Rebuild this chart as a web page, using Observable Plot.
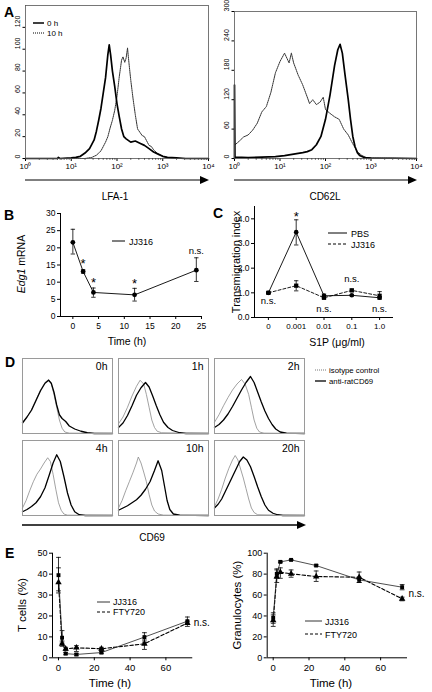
<!DOCTYPE html>
<html><head><meta charset="utf-8">
<script src="https://cdn.jsdelivr.net/npm/d3@7"></script>
<script src="https://cdn.jsdelivr.net/npm/@observablehq/plot@0.6"></script>
<style>
body{margin:0;background:#fff;}
#fig{position:relative;width:432px;height:692px;overflow:hidden;font-family:"Liberation Sans",Arial,Helvetica,sans-serif;}
</style></head><body><div id="fig"></div>
<script>
// ---------- DATA ----------
// Panel A: flow histograms, x = log10 fluorescence (decades), y = counts
const lfa0h = [[0,0],[0.7,0],[0.72,1],[0.75,0],[1.0,0.5],[1.1,1],[1.2,2],[1.3,5],[1.4,9],[1.5,17],[1.55,25],[1.6,35],[1.65,46],[1.7,60],[1.75,74],[1.8,95],[1.83,104],[1.86,95],[1.9,80],[1.95,66],[2.0,50],[2.05,38],[2.1,27],[2.15,20],[2.2,18],[2.3,15],[2.4,16],[2.5,14],[2.6,12],[2.7,9],[2.8,6],[2.9,4],[3.0,2],[3.1,1],[3.3,0.5],[3.5,0],[4,0]];
const lfa10h = [[1.0,0],[1.3,0],[1.45,1],[1.55,3],[1.65,7],[1.75,15],[1.8,20],[1.85,28],[1.9,35],[1.95,44],[2.0,57],[2.05,75],[2.1,90],[2.13,93],[2.17,88],[2.2,92],[2.23,101],[2.26,88],[2.3,72],[2.35,55],[2.4,40],[2.45,27],[2.5,24],[2.55,21],[2.6,20],[2.65,16],[2.7,12],[2.75,11],[2.8,8],[2.9,4],[3.0,2],[3.1,1],[3.3,0],[4,0]];
const cd62l0h = [[0,0],[0,150],[0.01,3],[0.3,2],[0.6,3],[0.9,4],[1.1,6],[1.3,9],[1.5,12],[1.6,14],[1.7,18],[1.8,28],[1.9,45],[2.0,80],[2.1,130],[2.2,190],[2.27,222],[2.32,233],[2.37,215],[2.43,170],[2.5,120],[2.55,80],[2.6,45],[2.65,24],[2.7,12],[2.75,6],[2.85,2],[3.0,1],[4,0]];
const cd62l10h = [[0,27],[0.1,35],[0.2,44],[0.3,48],[0.4,58],[0.5,72],[0.6,95],[0.7,106],[0.8,135],[0.9,175],[1.0,198],[1.1,215],[1.15,205],[1.2,195],[1.25,215],[1.3,195],[1.4,170],[1.5,150],[1.6,125],[1.65,112],[1.72,120],[1.8,110],[1.88,115],[1.95,125],[2.0,100],[2.1,92],[2.2,85],[2.3,80],[2.4,60],[2.5,48],[2.6,30],[2.7,14],[2.8,6],[2.9,2],[3.0,1],[4,0]];
const aDecades = [0,1,2,3,4];
const aLeftTicks = [0,20,40,60,80,100,120];
const aRightTicks = [0,60,120,180,240,300];

// Panel B
const bTime = [0,2,4,12,24];
const bMean = [21.6,13.1,7.0,6.3,13.5];
const bLow  = [18.2,12.6,5.6,4.5,10.2];
const bHigh = [25.4,13.6,8.3,8.2,17.1];
const bStarTime = [2,4,12];
const bStarY = [16.3,10.8,10.5];
const bTicksY = [0,5,10,15,20,25,30];
const bTicksX = [0,5,10,15,20,25];

// Panel C
const cConc = ["0","0.001","0.01","0.1","1.0"];
const cPBS   = [1.0,3.46,0.88,0.9,0.8];
const cPBSlo = [0.97,2.94,0.83,0.87,0.75];
const cPBShi = [1.03,3.96,0.95,0.93,0.85];
const cJJ    = [1.0,1.29,0.8,1.1,0.88];
const cJJlo  = [0.97,1.08,0.76,1.05,0.75];
const cJJhi  = [1.03,1.49,0.84,1.15,1.05];
const cNsConc = ["0","0.01","0.1","1.0"];
const cNsY = [0.66,0.36,1.58,0.36];
const cTicksY = [0,1,2,3,4];

// Panel D: CD69 histograms (x = channel % of range, y = % of max height)
const d0hIso  = [[0,15],[5,22],[10,32],[15,45],[20,58],[25,68],[29,72],[32,66],[35,52],[38,35],[41,18],[44,7],[47,2],[52,0.5],[100,0]];
const d0hAnti = [[0,14],[5,22],[10,31],[15,44],[20,57],[25,67],[29,71],[32,67],[35,55],[38,38],[41,25],[44,20],[48,16],[52,10],[58,6],[65,3],[72,1],[80,0],[100,0]];
const d1hIso  = [[0,13],[5,22],[10,35],[15,50],[20,63],[24,71],[28,66],[31,52],[34,35],[37,18],[40,8],[43,3],[48,1],[100,0]];
const d1hAnti = [[0,8],[5,14],[10,24],[15,37],[20,51],[25,61],[30,68],[34,62],[38,50],[42,37],[46,25],[50,15],[55,8],[60,4],[68,1],[75,0],[100,0]];
const d2hIso  = [[0,15],[5,25],[10,37],[15,48],[20,58],[25,66],[30,72],[34,66],[38,52],[41,35],[44,18],[47,7],[50,2],[55,0.5],[100,0]];
const d2hAnti = [[0,8],[5,12],[10,18],[15,26],[20,36],[25,47],[30,58],[35,68],[40,76],[44,68],[48,55],[52,42],[56,30],[60,20],[64,12],[68,6],[73,2],[80,0.5],[100,0]];
const d4hIso  = [[0,10],[4,20],[8,33],[12,45],[16,55],[20,62],[24,70],[28,77],[31,72],[34,55],[37,35],[40,17],[43,7],[46,2],[50,0.5],[100,0]];
const d4hAnti = [[0,5],[5,8],[10,12],[15,17],[20,25],[25,37],[30,55],[34,70],[38,81],[42,72],[46,52],[50,30],[54,14],[58,5],[63,1],[70,0],[100,0]];
const d10hIso  = [[0,10],[4,20],[8,33],[12,45],[16,57],[20,70],[22,78],[25,70],[28,58],[31,45],[34,28],[37,14],[40,6],[44,2],[50,0.5],[100,0]];
const d10hAnti = [[0,7],[5,10],[10,13],[15,17],[20,21],[25,27],[30,35],[35,45],[40,60],[44,73],[48,60],[51,40],[54,20],[57,8],[61,2],[68,0.5],[100,0]];
const d20hIso  = [[0,12],[4,22],[8,35],[12,50],[16,63],[20,74],[23,80],[26,74],[29,62],[32,50],[35,36],[38,22],[41,10],[44,4],[48,1],[100,0]];
const d20hAnti = [[0,10],[4,15],[8,22],[12,32],[16,42],[20,52],[24,62],[28,72],[32,78],[36,74],[40,65],[44,52],[48,38],[52,25],[56,14],[60,7],[65,3],[70,1],[76,0],[100,0]];
const dLabels = ["0h","1h","2h","4h","10h","20h"];

// Panel E
const eTime = [0,2,4,10,24,48,72];
const eTJJ    = [39.5,9.6,2.0,1.6,2.5,9.9,17.5];
const eTJJlo  = [32,7,1.5,1,2,7.5,16];
const eTJJhi  = [48,13,2.5,2,3,12,19.5];
const eTFTY   = [36,6.7,4.3,4.8,4.3,6.7,16.6];
const eTFTYlo = [31,5.5,3.5,3,3.5,4,15];
const eTFTYhi = [43,8,5,5.8,5,8.5,17.5];
const eGJJ    = [38.2,80.3,91.7,93.6,88.2,74.5,67.5];
const eGJJlo  = [33,76,91,93,87.5,72,65];
const eGJJhi  = [43,85,92.5,94,89,77,70];
const eGFTY   = [35.7,77.7,81.8,80.3,77.7,77,56.4];
const eGFTYlo = [30,72,76,77,73,72,54.5];
const eGFTYhi = [41,84,86,84,83,82,58];
const eTicksX = [0,20,40,60];
const eTTicksY = [0,10,20,30,40,50];
const eGTicksY = [0,20,40,60,80,100];

// ---------- DRAWING ----------
const fig = document.getElementById("fig");
const FONT = '"Liberation Sans", Arial, Helvetica, sans-serif';
const baseStyle = {fontFamily: FONT, background: "transparent", overflow: "visible", color: "black"};
function place(node, left, top) {
  node.style.position = "absolute";
  node.style.left = left + "px";
  node.style.top = top + "px";
  node.style.maxWidth = "none";
  fig.appendChild(node);
}
const capSym = {draw(ctx, size) { const w = Math.sqrt(size / Math.PI); ctx.moveTo(-w, 0); ctx.lineTo(w, 0); }};
const sup = ["\u2070","\u00B9","\u00B2","\u00B3","\u2074"];
const minorTicks = aDecades.slice(0, 4).flatMap(d => [2,3,4,5,6,7,8,9].map(k => d + Math.log10(k)));
const px = d => d[0], py = d => d[1];

// Panel A
function histA(h0, h10, yMax, yTicks, m) {
  return Plot.plot({
    width: 216, height: 175, marginLeft: m.l, marginRight: m.r, marginTop: m.t, marginBottom: 17,
    x: {domain: [0, 4]}, y: {domain: [0, yMax]},
    style: {...baseStyle, fontSize: "7px"},
    marks: [
      Plot.axisX({ticks: minorTicks, tickSize: 1.5, tickFormat: () => "", label: null}),
      Plot.axisX({ticks: aDecades, tickSize: 3, tickPadding: 2, tickFormat: d => "10" + sup[d], fontSize: 8, label: null}),
      Plot.axisY({ticks: yTicks, tickSize: 2.5, tickFormat: () => "", label: null}),
      Plot.text(yTicks, {y: d => d, text: d => String(d), frameAnchor: "left", dx: -8, rotate: -90, fontSize: 7}),
      Plot.line(h10, {x: px, y: py, stroke: "#333", strokeWidth: 1, strokeDasharray: "1.3,0.9"}),
      Plot.line(h0, {x: px, y: py, stroke: "black", strokeWidth: 1.7}),
      Plot.frame({stroke: "#555", strokeWidth: 0.8})
    ]
  });
}
place(histA(lfa0h, lfa10h, 140, aLeftTicks, {l: 25, r: 8, t: 5}), 0, 0);
place(histA(cd62l0h, cd62l10h, 300, aRightTicks, {l: 18, r: 16, t: 11}), 216, 0);

// Panel B
const bIdx = d3.range(bTime.length);
place(Plot.plot({
  width: 216, height: 155, marginLeft: 60, marginRight: 14, marginTop: 18, marginBottom: 34,
  x: {domain: [-2.4, 25.2]}, y: {domain: [0, 30]},
  style: {...baseStyle, fontSize: "8px"},
  marks: [
    Plot.ruleY([0], {strokeWidth: 1}),
    Plot.ruleX([-2.4], {strokeWidth: 1}),
    Plot.axisY({ticks: bTicksY, tickSize: 3, tickPadding: 2, fontSize: 8.5, label: null}),
    Plot.axisX({ticks: bTicksX, tickSize: 3, tickPadding: 3, fontSize: 8.5, label: null}),
    Plot.ruleX(bIdx, {x: i => bTime[i], y1: i => bLow[i], y2: i => bHigh[i], strokeWidth: 0.8}),
    Plot.dot(bIdx, {x: i => bTime[i], y: i => bLow[i], symbol: capSym, r: 2.2, stroke: "black", fill: "none", strokeWidth: 0.8}),
    Plot.dot(bIdx, {x: i => bTime[i], y: i => bHigh[i], symbol: capSym, r: 2.2, stroke: "black", fill: "none", strokeWidth: 0.8}),
    Plot.line(bIdx, {x: i => bTime[i], y: i => bMean[i], strokeWidth: 0.9}),
    Plot.dot(bIdx, {x: i => bTime[i], y: i => bMean[i], r: 2.4, fill: "black", stroke: "none"}),
    Plot.text(d3.range(bStarTime.length), {x: i => bStarTime[i], y: i => bStarY[i], text: () => "*", fontSize: 13, dy: 3}),
    Plot.text(["n.s."], {x: 24, y: 18.2, text: d => d, fontSize: 9.5, lineAnchor: "bottom"})
  ]
}), 0, 195);

// Panel C (x = position index of each concentration; labels from cConc)
const cIdx = d3.range(cConc.length);
const cPos = c => cConc.indexOf(c);
place(Plot.plot({
  width: 216, height: 155, marginLeft: 38, marginRight: 39, marginTop: 11, marginBottom: 33,
  x: {domain: [-0.5, cConc.length - 0.5]}, y: {domain: [0, 4.5]},
  style: {...baseStyle, fontSize: "8px"},
  marks: [
    Plot.ruleY([0], {strokeWidth: 1}),
    Plot.ruleX([-0.5], {strokeWidth: 1}),
    Plot.axisY({ticks: cTicksY, tickSize: 3, tickPadding: 2, fontSize: 8.5, label: null}),
    Plot.axisX({ticks: cIdx, tickFormat: i => cConc[i], tickSize: 3, tickPadding: 3, fontSize: 8, label: null}),
    Plot.ruleX(cIdx, {x: i => i, y1: i => cPBSlo[i], y2: i => cPBShi[i], strokeWidth: 0.8}),
    Plot.dot(cIdx, {x: i => i, y: i => cPBSlo[i], symbol: capSym, r: 2.2, stroke: "black", fill: "none", strokeWidth: 0.8}),
    Plot.dot(cIdx, {x: i => i, y: i => cPBShi[i], symbol: capSym, r: 2.2, stroke: "black", fill: "none", strokeWidth: 0.8}),
    Plot.ruleX(cIdx, {x: i => i, y1: i => cJJlo[i], y2: i => cJJhi[i], strokeWidth: 0.8}),
    Plot.dot(cIdx, {x: i => i, y: i => cJJlo[i], symbol: capSym, r: 2.2, stroke: "black", fill: "none", strokeWidth: 0.8}),
    Plot.dot(cIdx, {x: i => i, y: i => cJJhi[i], symbol: capSym, r: 2.2, stroke: "black", fill: "none", strokeWidth: 0.8}),
    Plot.line(cIdx, {x: i => i, y: i => cJJ[i], strokeWidth: 0.9, strokeDasharray: "3,2"}),
    Plot.line(cIdx, {x: i => i, y: i => cPBS[i], strokeWidth: 0.9}),
    Plot.dot(cIdx, {x: i => i, y: i => cJJ[i], symbol: "square", r: 2.4, fill: "black", stroke: "none"}),
    Plot.dot(cIdx, {x: i => i, y: i => cPBS[i], r: 2.3, fill: "black", stroke: "none"}),
    Plot.text(["*"], {x: cPos("0.001"), y: 4.2, text: d => d, fontSize: 13, dy: 3}),
    Plot.text(d3.range(cNsConc.length), {x: i => cPos(cNsConc[i]), y: i => cNsY[i], text: () => "n.s.", fontSize: 9.5})
  ]
}), 216, 195);

// Panel D
function dPanel(iso, anti, label, left, top) {
  place(Plot.plot({
    width: 92, height: 77, margin: 1,
    x: {domain: [0, 100], axis: null}, y: {domain: [0, 100], axis: null},
    style: {...baseStyle, fontSize: "10px"},
    marks: [
      Plot.line(iso, {x: px, y: py, stroke: "#8a8a8a", strokeWidth: 0.8}),
      Plot.line(anti, {x: px, y: py, stroke: "black", strokeWidth: 1.3}),
      Plot.text([label], {text: d => d, frameAnchor: "top-right", dx: -5, dy: 4, lineAnchor: "top", fontSize: 10.5}),
      Plot.frame({stroke: "#9a9a9a", strokeWidth: 1})
    ]
  }), left - 1, top - 1);
}
dPanel(d0hIso, d0hAnti, dLabels[0], 22, 358);
dPanel(d1hIso, d1hAnti, dLabels[1], 118, 358);
dPanel(d2hIso, d2hAnti, dLabels[2], 214, 358);
dPanel(d4hIso, d4hAnti, dLabels[3], 22, 440);
dPanel(d10hIso, d10hAnti, dLabels[4], 118, 440);
dPanel(d20hIso, d20hAnti, dLabels[5], 214, 440);

// Panel E
function ePanel(o) {
  const idx = d3.range(eTime.length);
  const errMarks = (lo, hi) => [
    Plot.ruleX(idx, {x: i => eTime[i], y1: i => lo[i], y2: i => hi[i], strokeWidth: 0.8}),
    Plot.dot(idx, {x: i => eTime[i], y: i => lo[i], symbol: capSym, r: 2.4, stroke: "black", fill: "none", strokeWidth: 0.8}),
    Plot.dot(idx, {x: i => eTime[i], y: i => hi[i], symbol: capSym, r: 2.4, stroke: "black", fill: "none", strokeWidth: 0.8})
  ];
  return Plot.plot({
    width: 216, height: 152, marginLeft: o.ml, marginRight: o.mr, marginTop: 12.7, marginBottom: 34.7,
    x: {domain: [-3.35, 75]}, y: {domain: [0, o.yMax]},
    style: {...baseStyle, fontSize: "8.5px"},
    marks: [
      Plot.ruleY([0], {strokeWidth: 1}),
      Plot.ruleX([-3.35], {strokeWidth: 1}),
      Plot.axisY({ticks: o.yTicks, tickSize: 3, tickPadding: 2, fontSize: 9, label: null}),
      Plot.axisX({ticks: eTicksX, tickSize: 3, tickPadding: 3, fontSize: 9.5, label: null}),
      ...errMarks(o.jjLo, o.jjHi),
      ...errMarks(o.ftyLo, o.ftyHi),
      Plot.line(idx, {x: i => eTime[i], y: i => o.fty[i], strokeWidth: 1.1, strokeDasharray: "3.5,2"}),
      Plot.line(idx, {x: i => eTime[i], y: i => o.jj[i], strokeWidth: 0.8, stroke: "#222"}),
      Plot.dot(idx, {x: i => eTime[i], y: i => o.fty[i], symbol: "triangle", r: 2.4, fill: "black", stroke: "none"}),
      Plot.dot(idx, {x: i => eTime[i], y: i => o.jj[i], symbol: "square", r: 2.2, fill: "black", stroke: "none"}),
      Plot.text(["n.s."], {x: 75.5, y: o.nsY, text: d => d, textAnchor: "start", fontSize: 10})
    ]
  });
}
place(ePanel({ml: 52, mr: 23.75, yMax: 50, yTicks: eTTicksY, jj: eTJJ, jjLo: eTJJlo, jjHi: eTJJhi, fty: eTFTY, ftyLo: eTFTYlo, ftyHi: eTFTYhi, nsY: 16.9}), 0, 540);
place(ePanel({ml: 50.7, mr: 25, yMax: 100, yTicks: eGTicksY, jj: eGJJ, jjLo: eGJJlo, jjHi: eGJJhi, fty: eGFTY, ftyLo: eGFTYlo, ftyHi: eGFTYhi, nsY: 61}), 216, 540);

// ---------- Overlay: panel letters, legends, arrows, axis titles ----------
const ov = d3.create("svg").attr("width", 432).attr("height", 692)
  .style("position", "absolute").style("left", "0px").style("top", "0px")
  .style("font-family", FONT).style("pointer-events", "none");
function txt(x, y, s, size, opts = {}) {
  const t = ov.append("text").attr("x", x).attr("y", y).attr("font-size", size).text(s);
  if (opts.bold) t.attr("font-weight", "bold");
  if (opts.anchor) t.attr("text-anchor", opts.anchor);
  if (opts.rot) t.attr("transform", `rotate(-90,${x},${y})`);
  return t;
}
function seg(x1, y1, x2, y2, w, dash, color = "black") {
  const l = ov.append("line").attr("x1", x1).attr("y1", y1).attr("x2", x2).attr("y2", y2)
    .attr("stroke", color).attr("stroke-width", w);
  if (dash) l.attr("stroke-dasharray", dash);
}
function arrow(x1, x2, y, w) {
  seg(x1, y, x2 - 6, y, w);
  ov.append("path").attr("d", `M${x2 - 9},${y - 4} L${x2},${y} L${x2 - 9},${y + 4} Z`).attr("fill", "black");
}
// letters
txt(4, 17, "A", 14, {bold: true});
txt(4, 220, "B", 14, {bold: true});
txt(213, 218, "C", 14, {bold: true});
txt(5, 367, "D", 14, {bold: true});
txt(5, 558, "E", 14, {bold: true});
// A legend + arrows + titles
seg(33, 23, 44, 23, 1.5);
txt(47, 26, "0 h", 8);
seg(33, 33, 44, 33, 1, "1,1");
txt(47, 36, "10 h", 8);
arrow(25, 209, 180, 1);
arrow(234, 417, 180, 1);
txt(115, 200, "LFA-1", 10, {anchor: "middle"});
txt(325, 200, "CD62L", 10, {anchor: "middle"});
// B
seg(112, 241, 125, 241, 1);
txt(129, 244.5, "JJ316", 9);
txt(127, 345, "Time (h)", 10.5, {anchor: "middle"});
const eg = txt(25, 264, "", 10.5, {anchor: "middle", rot: true});
eg.append("tspan").attr("font-style", "italic").text("Edg1");
eg.append("tspan").text(" mRNA");
// C
seg(328, 233, 347, 233, 1);
txt(351, 236.5, "PBS", 9);
seg(328, 244, 347, 244, 1, "3,2");
txt(351, 247.5, "JJ316", 9);
txt(337, 346, "S1P (\u03BCg/ml)", 10.5, {anchor: "middle"});
txt(240, 262, "Transmigration index", 11, {anchor: "middle", rot: true});
// D
seg(315, 370, 326, 370, 0.8, "1,1", "#555");
txt(329, 372.5, "isotype control", 7.8);
seg(315, 381, 326, 381, 1.3);
txt(329, 383.5, "anti-ratCD69", 7.8);
arrow(22, 306, 525, 1.3);
txt(152, 541, "CD69", 10, {anchor: "middle"});
// E
seg(97, 602, 110, 602, 0.8);
txt(113, 605, "JJ316", 9);
seg(97, 612, 110, 612, 1, "3,2");
txt(113, 615, "FTY720", 9);
txt(110, 687, "Time (h)", 11.5, {anchor: "middle"});
txt(26, 605, "T cells (%)", 11.5, {anchor: "middle", rot: true});
seg(305, 621, 322, 621, 0.8);
txt(325, 624.5, "JJ316", 9);
seg(305, 634, 322, 634, 1, "3,2");
txt(325, 637.5, "FTY720", 9);
txt(331, 687, "Time (h)", 11.5, {anchor: "middle"});
txt(241, 605, "Granulocytes (%)", 11.5, {anchor: "middle", rot: true});
fig.appendChild(ov.node());
</script></body></html>
